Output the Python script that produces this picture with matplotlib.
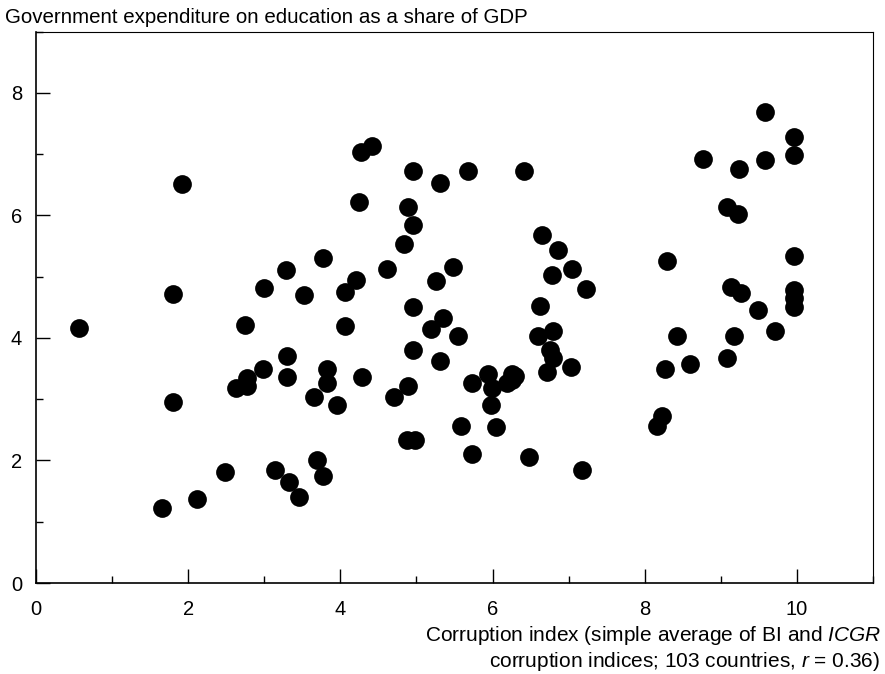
import matplotlib
matplotlib.use("Agg")
import matplotlib.pyplot as plt
from matplotlib.ticker import MultipleLocator

# corruption index (x) and education spending % of GDP (y)
corruption = [
    0.56, 1.92, 1.80, 1.80, 1.66, 2.12, 2.49, 2.75, 2.63, 2.77,
    2.77, 2.98, 3.30, 3.30, 3.65, 3.83, 3.83, 3.96, 3.69, 3.77,
    3.14, 3.32, 3.46, 2.99, 3.28, 3.52, 3.77, 4.06, 4.21, 4.06,
    4.29, 4.27, 4.41, 4.25, 4.61, 4.84, 4.89, 4.96, 4.96, 5.31,
    5.68, 6.42, 4.96, 4.96, 4.89, 4.71, 4.88, 4.98, 5.26, 5.48,
    5.35, 5.19, 5.54, 5.31, 5.73, 5.94, 6.25, 6.26, 6.19, 5.99,
    5.98, 5.58, 6.04, 5.73, 6.48, 7.18, 6.65, 6.86, 7.04, 6.78,
    7.23, 6.62, 6.60, 6.79, 6.75, 6.79, 6.71, 7.03, 9.58, 9.96,
    9.96, 8.76, 9.24, 9.58, 9.08, 9.22, 8.29, 9.96, 9.14, 9.27,
    9.96, 9.96, 9.96, 9.49, 9.71, 8.42, 9.17, 8.27, 8.59, 9.08,
    8.23, 8.16, 6.29,
]
education = [
    4.17, 6.51, 4.71, 2.95, 1.23, 1.37, 1.82, 4.21, 3.18, 3.34,
    3.22, 3.50, 3.70, 3.36, 3.03, 3.26, 3.49, 2.90, 2.00, 1.74,
    1.84, 1.65, 1.41, 4.81, 5.11, 4.70, 5.30, 4.75, 4.94, 4.19,
    3.36, 7.04, 7.14, 6.22, 5.12, 5.53, 6.14, 5.84, 6.73, 6.53,
    6.73, 6.72, 4.50, 3.81, 3.22, 3.04, 2.33, 2.34, 4.93, 5.16,
    4.32, 4.14, 4.04, 3.62, 3.27, 3.42, 3.42, 3.31, 3.26, 3.18,
    2.91, 2.57, 2.54, 2.10, 2.05, 1.85, 5.68, 5.43, 5.12, 5.02,
    4.80, 4.53, 4.03, 4.12, 3.80, 3.67, 3.44, 3.52, 7.69, 7.28,
    6.99, 6.92, 6.76, 6.91, 6.14, 6.02, 5.25, 5.33, 4.84, 4.73,
    4.78, 4.65, 4.50, 4.45, 4.12, 4.03, 4.03, 3.50, 3.57, 3.67,
    2.73, 2.57, 3.38,
]

plt.rcParams['font.family'] = ['Liberation Sans', 'DejaVu Sans']
plt.rcParams['mathtext.fontset'] = 'custom'
plt.rcParams['mathtext.rm'] = 'Liberation Sans'
plt.rcParams['mathtext.it'] = 'Liberation Sans:italic'

fig = plt.figure(figsize=(8.85, 6.74), dpi=100)
ax = fig.add_axes([0.0407, 0.135, 0.9457, 0.818])

ax.plot(corruption, education, 'o', color='black', markersize=13.5,
        markeredgewidth=0, clip_on=False)

ax.set_xlim(0, 11)
ax.set_ylim(0, 9.0)
ax.xaxis.set_major_locator(MultipleLocator(2))
ax.xaxis.set_minor_locator(MultipleLocator(1))
ax.yaxis.set_major_locator(MultipleLocator(2))
ax.yaxis.set_minor_locator(MultipleLocator(1))
ax.tick_params(which='both', direction='in', top=False, right=False,
               labelsize=14.5, width=1.0)
ax.tick_params(axis='x', which='major', length=10, pad=12)
ax.tick_params(axis='y', which='major', length=10, pad=10)
ax.tick_params(which='minor', length=5)
for s in ax.spines.values():
    s.set_linewidth(0.8)
ax.spines['left'].set_linewidth(1.2)
ax.spines['bottom'].set_linewidth(1.2)

fig.text(0.006, 0.974, "Government expenditure on education as a share of GDP",
         fontsize=14.8, ha='left', va='center')
fig.text(0.996, 0.057, "Corruption index (simple average of BI and $\\it{ICGR}$",
         fontsize=15, ha='right', va='center')
fig.text(0.994, 0.018, "corruption indices; 103 countries, $\\it{r}$ = 0.36)",
         fontsize=15, ha='right', va='center')

fig.savefig("out.png", dpi=100)
